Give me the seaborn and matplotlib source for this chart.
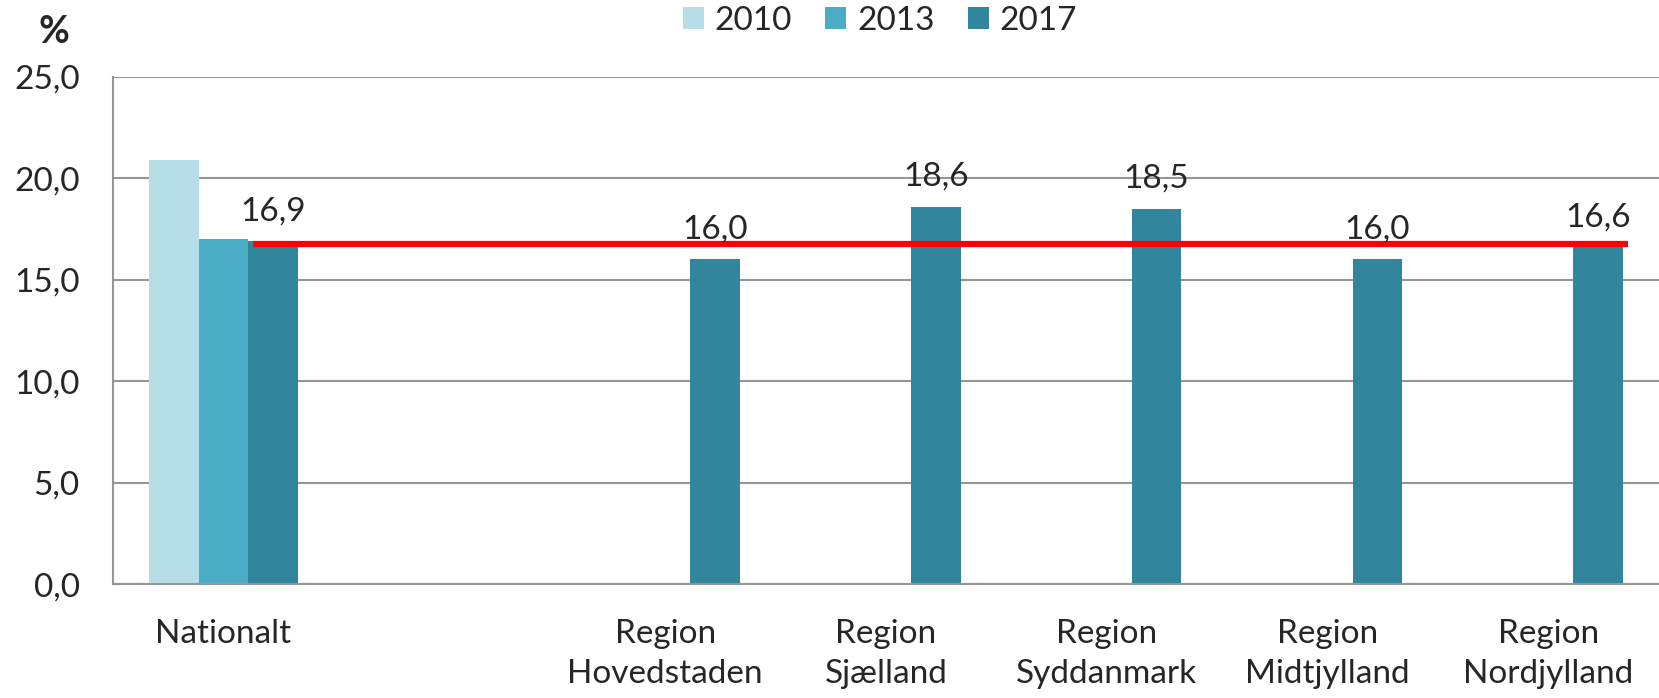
import pandas as pd
import matplotlib
matplotlib.use('Agg')
import matplotlib.pyplot as plt
from matplotlib.ticker import FixedLocator, FuncFormatter
import seaborn as sns

# data
aar = ['2010', '2013', '2017']
farver = ['#B7DDE8', '#4BACC6', '#31859C']
nationalt = [20.9, 17.0, 16.9]
regioner = ['Region\nHovedstaden', 'Region\nSjælland', 'Region\nSyddanmark',
            'Region\nMidtjylland', 'Region\nNordjylland']
regioner_2017 = [16.0, 18.6, 18.5, 16.0, 16.6]
landsgennemsnit = 16.75
kategorier = ['Nationalt', ''] + regioner

rows = [('Nationalt', a, v) for a, v in zip(aar, nationalt)]
rows += [(r, '2017', v) for r, v in zip(regioner, regioner_2017)]
df = pd.DataFrame(rows, columns=['kategori', 'aar', 'procent'])

sns.set_style('white')
plt.rcParams['font.family'] = ['Lato', 'DejaVu Sans']
plt.rcParams['font.size'] = 24

fig = plt.figure(figsize=(16.59, 6.98), dpi=100)
ax = fig.add_axes([113/1659, 1-584.4/698, 1-113/1659, (584.4-76.5)/698])

sns.barplot(data=df, x='kategori', y='procent', hue='aar', order=kategorier,
            hue_order=aar, palette=farver, width=0.675, errorbar=None,
            saturation=1, linewidth=0, ax=ax, zorder=2)

grid = '#969696'
ax.set_ylim(0, 25)
ax.set_xlim(-0.5, len(kategorier)-0.5)
ax.set_yticks([0, 5, 10, 15, 20, 25])
ax.yaxis.set_major_formatter(FuncFormatter(lambda v, p: f'{v:.1f}'.replace('.', ',')))
ax.grid(axis='y', color=grid, linewidth=1.5, zorder=0)
ax.set_axisbelow(True)
for s in ['top', 'right']:
    ax.spines[s].set_visible(False)
for s in ['left', 'bottom']:
    ax.spines[s].set_color(grid)
    ax.spines[s].set_linewidth(1.5)
ax.tick_params(axis='y', direction='out', length=8, width=1.5, color=grid, pad=16, labelsize=24)
ax.xaxis.set_minor_locator(FixedLocator([i-0.5 for i in range(len(kategorier)+1)]))
ax.tick_params(axis='x', which='minor', direction='out', length=9, width=1.5, color=grid)
ax.tick_params(axis='x', which='major', length=0, pad=25, labelsize=24)
for t in ax.get_xticklabels():
    t.set_linespacing(1.42)
ax.set_xlabel('')
ax.set_ylabel('')

# data labels on 2017 bars
bars = [p for p in ax.containers[-1] if p.get_height() > 0]
for p in bars:
    h = p.get_height()
    ax.annotate(f'{h:.1f}'.replace('.', ','), (p.get_x()+p.get_width()/2, h),
                xytext=(0, 15), textcoords='offset points', ha='center',
                va='baseline', fontsize=24, zorder=5)

# national average line
x0 = bars[0].get_x() + 0.02
x1 = bars[-1].get_x() + bars[-1].get_width() + 0.02
ax.hlines(landsgennemsnit, x0, x1, color='#FF0000', linewidth=4.5, zorder=4)

handles, labels = ax.get_legend_handles_labels()
ax.get_legend().remove()
fig.legend(handles, labels, loc='center', bbox_to_anchor=(880/1659, 1-20.5/698),
           ncol=3, frameon=False, fontsize=24, handlelength=0.62, handleheight=0.62,
           handletextpad=0.33, columnspacing=1.0)

fig.text(54/1659, 1-32/698, '%', fontsize=27, fontweight='bold', ha='center', va='center')

fig.savefig('out.png', dpi=100)
